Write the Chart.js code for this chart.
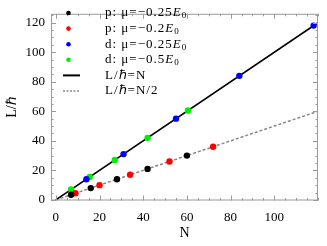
<!DOCTYPE html>
<html lang="en">
<head>
<meta charset="UTF-8">
<title>L vs N</title>
<script src="https://cdn.jsdelivr.net/npm/chart.js"></script>
<style>
    body { margin: 0; background-color: #ffffff; }
    canvas { display: block; }
</style>
</head>
<body>
<canvas id="lnChart" width="327" height="246"></canvas>
<script>
    // p states
    const pN25 = [7, 16, 28, 42, 60];
    const pL25 = [3.5, 8, 14, 21, 30];
    const pN20 = [9, 20, 34, 52, 72];
    const pL20 = [4.5, 10, 17, 26, 36];
    // d states
    const dN25 = [14, 31, 55, 84, 118];
    const dL25 = [14, 31, 55, 84, 118];
    const dN50 = [7, 15.5, 27, 42, 60.5];
    const dL50 = [7, 15.5, 27, 42, 60.5];
    // reference lines (end points)
    const lineN = [0, 120];
    const lineFull = [0, 120];
    const lineHalf = [0, 60];

    const xTicks = [0, 20, 40, 60, 80, 100];
    const yTicks = [0, 20, 40, 60, 80, 100, 120];
    const minorStep = 5;

    const legendItems = [
        { kind: 'dot', color: '#000000', pre: 'p: μ=−0.25', sub: true },
        { kind: 'dot', color: '#ff0000', pre: 'p: μ=−0.2', sub: true },
        { kind: 'dot', color: '#0000ff', pre: 'd: μ=−0.25', sub: true },
        { kind: 'dot', color: '#00ee00', pre: 'd: μ=−0.5', sub: true },
        { kind: 'line', color: '#000000', pre: 'L/ℏ=N', sub: false },
        { kind: 'dash', color: '#888888', pre: 'L/ℏ=N/2', sub: false }
    ];

    function pts(xs, ys) {
        return xs.map((v, i) => ({ x: v, y: ys[i] }));
    }

    function dotSet(xs, ys, color) {
        return {
            data: pts(xs, ys),
            backgroundColor: color,
            borderColor: color,
            borderWidth: 0,
            pointRadius: 3.2,
            showLine: false
        };
    }

    const framePlugin = {
        id: 'frame',
        afterDatasetsDraw(chart) {
            const { ctx, chartArea: a, scales: { x, y } } = chart;
            ctx.save();
            ctx.strokeStyle = '#9a9a9a';
            ctx.lineWidth = 1;
            ctx.strokeRect(a.left + 0.5, a.top + 0.5, a.right - a.left - 1, a.bottom - a.top - 1);
            ctx.beginPath();
            for (let v = 0; v <= x.max; v += minorStep) {
                const px = Math.round(x.getPixelForValue(v)) + 0.5;
                const len = xTicks.includes(v) ? 5 : 2.5;
                ctx.moveTo(px, a.bottom); ctx.lineTo(px, a.bottom - len);
                ctx.moveTo(px, a.top); ctx.lineTo(px, a.top + len);
            }
            for (let v = 0; v <= y.max; v += minorStep) {
                const py = Math.round(y.getPixelForValue(v)) + 0.5;
                const len = yTicks.includes(v) ? 5 : 2.5;
                ctx.moveTo(a.left, py); ctx.lineTo(a.left + len, py);
                ctx.moveTo(a.right, py); ctx.lineTo(a.right - len, py);
            }
            ctx.stroke();
            ctx.restore();
        },
        afterDraw(chart) {
            const ctx = chart.ctx;
            ctx.save();
            ctx.textBaseline = 'middle';
            ctx.letterSpacing = '1px';
            legendItems.forEach((it, i) => {
                const yy = 13 + i * 15.6;
                if (it.kind === 'dot') {
                    ctx.fillStyle = it.color;
                    ctx.beginPath();
                    ctx.arc(68.5, yy, 2.3, 0, Math.PI * 2);
                    ctx.fill();
                } else {
                    ctx.strokeStyle = it.color;
                    ctx.lineWidth = it.kind === 'line' ? 2 : 1.5;
                    ctx.setLineDash(it.kind === 'line' ? [] : [2, 1.5]);
                    ctx.beginPath();
                    ctx.moveTo(63, yy); ctx.lineTo(80, yy);
                    ctx.stroke();
                    ctx.setLineDash([]);
                }
                ctx.fillStyle = '#000000';
                ctx.font = '13px "Liberation Serif"';
                let tx = 105;
                ctx.fillText(it.pre, tx, yy);
                tx += ctx.measureText(it.pre).width;
                if (it.sub) {
                    ctx.font = 'italic 13px "Liberation Serif"';
                    ctx.fillText('E', tx, yy);
                    tx += ctx.measureText('E').width;
                    ctx.font = '9px "Liberation Serif"';
                    ctx.fillText('0', tx, yy + 3);
                }
            });
            ctx.restore();
        }
    };

    const tickFont = { family: '"Liberation Serif"', size: 13 };

    new Chart(document.getElementById('lnChart'), {
        type: 'scatter',
        data: {
            datasets: [
                dotSet(pN25, pL25, '#000000'),
                dotSet(pN20, pL20, '#ff0000'),
                dotSet(dN25, dL25, '#0000ff'),
                dotSet(dN50, dL50, '#00ee00'),
                {
                    data: pts(lineN, lineFull),
                    showLine: true,
                    borderColor: '#000000',
                    borderWidth: 1.7,
                    pointRadius: 0
                },
                {
                    data: pts(lineN, lineHalf),
                    showLine: true,
                    borderColor: '#888888',
                    borderWidth: 1.5,
                    borderDash: [3, 2],
                    pointRadius: 0
                }
            ]
        },
        options: {
            responsive: false,
            animation: false,
            layout: { padding: { top: 1, right: 9, left: 0, bottom: 0 } },
            plugins: { legend: { display: false }, tooltip: { enabled: false } },
            scales: {
                x: {
                    type: 'linear',
                    min: -2.2,
                    max: 120,
                    afterFit: s => { s.height = 45.5; },
                    afterBuildTicks: s => { s.ticks = xTicks.map(v => ({ value: v })); },
                    grid: { display: false, drawTicks: false },
                    border: { display: false },
                    ticks: { color: '#000000', font: tickFont, padding: 9, maxRotation: 0 },
                    title: { display: true, text: 'N', color: '#000000', font: { family: '"Liberation Serif"', size: 14 }, padding: { top: 0, bottom: 4.5 } }
                },
                y: {
                    type: 'linear',
                    min: -0.4,
                    max: 126,
                    afterFit: s => { s.width = 51; },
                    afterBuildTicks: s => { s.ticks = yTicks.map(v => ({ value: v })); },
                    grid: { display: false, drawTicks: false },
                    border: { display: false },
                    ticks: { color: '#000000', font: tickFont, padding: 6 },
                    title: { display: true, text: 'L/ℏ', color: '#000000', font: { family: '"Liberation Serif"', size: 14 }, padding: { top: 4, bottom: 0 } }
                }
            }
        },
        plugins: [framePlugin]
    });
</script>
</body>
</html>
